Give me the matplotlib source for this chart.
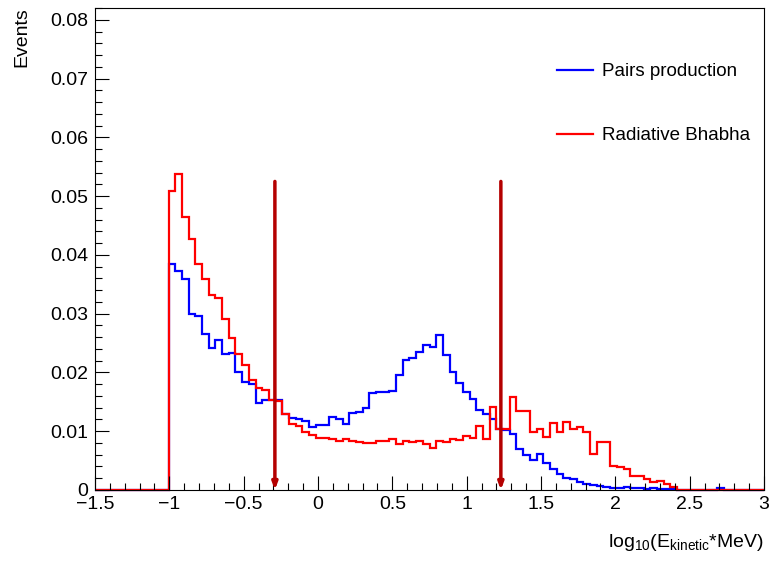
import numpy as np
import matplotlib
matplotlib.use("Agg")
import matplotlib.pyplot as plt
from matplotlib.lines import Line2D
from matplotlib.ticker import MultipleLocator

plt.rcParams['font.family'] = ['Liberation Sans', 'DejaVu Sans']

# 100 bins from -1.5 to 3
edges = np.linspace(-1.5, 3.0, 101)

pairs = [0.0]*11 + [
    0.0385, 0.0373, 0.0359, 0.0300, 0.0296, 0.0266, 0.0242, 0.0255, 0.0231, 0.0233,
    0.0200, 0.0183, 0.0180, 0.0148, 0.0153, 0.0153, 0.0153, 0.0129, 0.0123, 0.0120,
    0.0117, 0.0108, 0.0110, 0.0110, 0.0125, 0.0120, 0.0113, 0.0131, 0.0133, 0.0140,
    0.0165, 0.0166, 0.0167, 0.0169, 0.0196, 0.0222, 0.0225, 0.0235, 0.0247, 0.0244,
    0.0264, 0.0230, 0.0201, 0.0182, 0.0167, 0.0155, 0.0136, 0.0129, 0.0121, 0.0104,
    0.0102, 0.0096, 0.0069, 0.0060, 0.0051, 0.0061, 0.0046, 0.0035, 0.0028, 0.0020,
    0.0018, 0.0014, 0.0011, 0.0008, 0.0007, 0.0005, 0.0004, 0.0003, 0.0005, 0.0003,
    0.0003, 0.0002, 0.0003, 0.0002, 0.0001, 0.0001, 0.0, 0.0, 0.0, 0.0,
    0.0, 0.0, 0.0004, 0.0, 0.0, 0.0, 0.0, 0.0, 0.0]

bhabha = [0.0]*11 + [
    0.0508, 0.0537, 0.0465, 0.0427, 0.0385, 0.0359, 0.0331, 0.0327, 0.0291, 0.0258,
    0.0231, 0.0212, 0.0188, 0.0173, 0.0171, 0.0153, 0.0152, 0.0130, 0.0113, 0.0109,
    0.0099, 0.0094, 0.0088, 0.0088, 0.0086, 0.0084, 0.0087, 0.0084, 0.0082, 0.0080,
    0.0080, 0.0084, 0.0084, 0.0087, 0.0078, 0.0084, 0.0082, 0.0084, 0.0079, 0.0071,
    0.0084, 0.0082, 0.0087, 0.0085, 0.0092, 0.0088, 0.0109, 0.0087, 0.0141, 0.0103,
    0.0103, 0.0159, 0.0134, 0.0134, 0.0099, 0.0103, 0.0091, 0.0114, 0.0099, 0.0116,
    0.0104, 0.0108, 0.0099, 0.0062, 0.0082, 0.0082, 0.0041, 0.0039, 0.0035, 0.0024,
    0.0023, 0.0019, 0.0013, 0.0016, 0.0010, 0.0005, 0.0, 0.0, 0.0, 0.0,
    0.0, 0.0, 0.0, 0.0, 0.0, 0.0, 0.0, 0.0, 0.0]

cut_x = [-0.29, 1.23]
cut_top = 0.0525

fig = plt.figure(figsize=(7.7, 5.63), dpi=100)
ax = fig.add_axes([95/770, 73/563, 669/770, 482.5/563])

ax.stairs(pairs, edges, color='#0000ff', lw=1.6, baseline=0, clip_on=False)
ax.stairs(bhabha, edges, color='#ff0000', lw=1.6, baseline=0, clip_on=False)

for xc in cut_x:
    ax.annotate('', xy=(xc, 0.0), xytext=(xc, cut_top),
                arrowprops=dict(arrowstyle='-|>,head_length=0.4,head_width=0.15',
                                color='#b40000', lw=2.5, shrinkA=0, shrinkB=0))

ax.set_xlim(-1.5, 3.0)
ax.set_ylim(0, 0.0821)
ax.xaxis.set_minor_locator(MultipleLocator(0.1))
ax.yaxis.set_minor_locator(MultipleLocator(0.002))
ax.set_yticks([0, 0.01, 0.02, 0.03, 0.04, 0.05, 0.06, 0.07, 0.08])
ax.set_yticklabels(['0', '0.01', '0.02', '0.03', '0.04', '0.05', '0.06', '0.07', '0.08'])
ax.set_xticks([-1.5, -1, -0.5, 0, 0.5, 1, 1.5, 2, 2.5, 3])
ax.set_xticklabels(['\u22121.5', '\u22121', '\u22120.5', '0', '0.5', '1', '1.5', '2', '2.5', '3'])

ax.tick_params(which='both', direction='in', top=False, right=False, labelsize=14)
ax.tick_params(which='major', length=10, width=0.8)
ax.tick_params(which='minor', length=5, width=0.8)
ax.tick_params(axis='x', pad=4)
ax.tick_params(axis='y', pad=5)
for s in ax.spines.values():
    s.set_linewidth(0.8)

ax.set_ylabel('Events', loc='top', fontsize=14, labelpad=14)
ax.set_xlabel(r'$\mathregular{log_{10}(E_{kinetic}}$*MeV)', loc='right', fontsize=14, labelpad=14)

handles = [Line2D([], [], color='#0000ff', lw=1.6), Line2D([], [], color='#ff0000', lw=1.6)]
ax.legend(handles, ['Pairs production', 'Radiative Bhabha'], loc='upper left',
          bbox_to_anchor=(557/770, 1 - 63/563), bbox_transform=fig.transFigure,
          frameon=False, fontsize=13.5, handlelength=1.9, handletextpad=0.5,
          labelspacing=2.5, borderpad=0, borderaxespad=0)

fig.savefig('out.png', dpi=100)
